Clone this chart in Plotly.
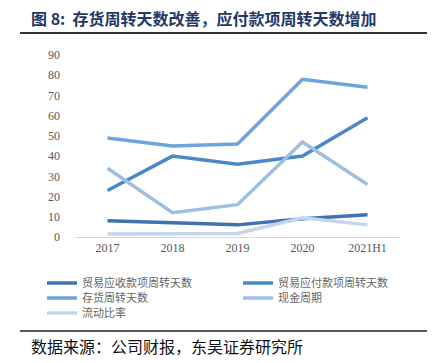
import plotly.graph_objects as go

categories = ["2017", "2018", "2019", "2020", "2021H1"]
names = ["贸易应收款项周转天数", "贸易应付款项周转天数", "存货周转天数", "现金周期", "流动比率"]
receivable_days = [8, 7, 6, 9, 11]
payable_days = [23, 40, 36, 40, 59]
inventory_days = [49, 45, 46, 78, 74]
cash_cycle = [34, 12, 16, 47, 26]
current_ratio = [1.5, 1.8, 1.7, 9.5, 6]
series = [receivable_days, payable_days, inventory_days, cash_cycle, current_ratio]
colors = ["#3F72AF", "#4A88C7", "#6FA3DB", "#9EBEE4", "#C4D6EE"]

W, H = 435, 363
L, R, T, B = 75, 35, 55, 126

pw = W - L - R
ph = H - T - B
def px(x):
    return (x - L) / pw
def py(y):
    return (H - B - y) / ph

# legend slots (column x, row y) in pixels
legend_pos = [(42, 283), (238, 283), (42, 298), (238, 298), (42, 313)]
legend_ids = ["legend", "legend2", "legend3", "legend4", "legend5"]

fig = go.Figure()
for n, v, c, lid in zip(names, series, colors, legend_ids):
    fig.add_trace(go.Scatter(x=categories, y=v, name=n, mode="lines", legend=lid,
                             line=dict(color=c, width=3.5)))

legend_layout = {}
for lid, (lx, ly) in zip(legend_ids, legend_pos):
    legend_layout[lid] = dict(
        orientation="v", x=px(lx), y=py(ly), xanchor="left", yanchor="middle",
        font=dict(family="Noto Sans CJK SC", size=11, color="#666666"),
        itemwidth=30, bgcolor="rgba(0,0,0,0)", borderwidth=0,
    )

fig.update_layout(
    width=W, height=H,
    margin=dict(l=L, r=R, t=T, b=B, pad=0, autoexpand=False),
    paper_bgcolor="white", plot_bgcolor="white",
    showlegend=True,
    xaxis=dict(type="category", range=[-0.5, 4.5], showgrid=False, showline=True,
               linecolor="#D9D9D9", linewidth=1, ticks="", zeroline=False,
               tickfont=dict(family="Liberation Serif", size=12, color="#595959")),
    yaxis=dict(range=[0, 90], dtick=10, showgrid=False, showline=False, zeroline=False,
               ticks="", ticklabelstandoff=14,
               tickfont=dict(family="Liberation Serif", size=12, color="#595959")),
    shapes=[
        dict(type="line", xref="paper", yref="paper", x0=px(20), x1=px(427), y0=py(33), y1=py(33),
             line=dict(color="#333333", width=2)),
        dict(type="line", xref="paper", yref="paper", x0=px(20), x1=px(427), y0=py(331), y1=py(331),
             line=dict(color="#222222", width=1.5)),
    ],
    annotations=[
        dict(text="<b>图 8:  存货周转天数改善，应付款项周转天数增加</b>", xref="paper", yref="paper",
             x=px(29), y=py(18), xanchor="left", yanchor="middle", showarrow=False,
             font=dict(family="Noto Sans CJK SC", size=16, color="#1F3A66")),
        dict(text="数据来源：公司财报，东吴证券研究所", xref="paper", yref="paper",
             x=px(29), y=py(346), xanchor="left", yanchor="middle", showarrow=False,
             font=dict(family="Noto Sans CJK SC", size=16, color="#111111")),
    ],
    **legend_layout,
)
fig.write_html("out.html", config={"displayModeBar": False})

with open("out.html", "r", encoding="utf-8") as f:
    html = f.read()
html = html.replace("<head>", "<head><style>html,body{margin:0;padding:0;}</style>", 1)
with open("out.html", "w", encoding="utf-8") as f:
    f.write(html)
